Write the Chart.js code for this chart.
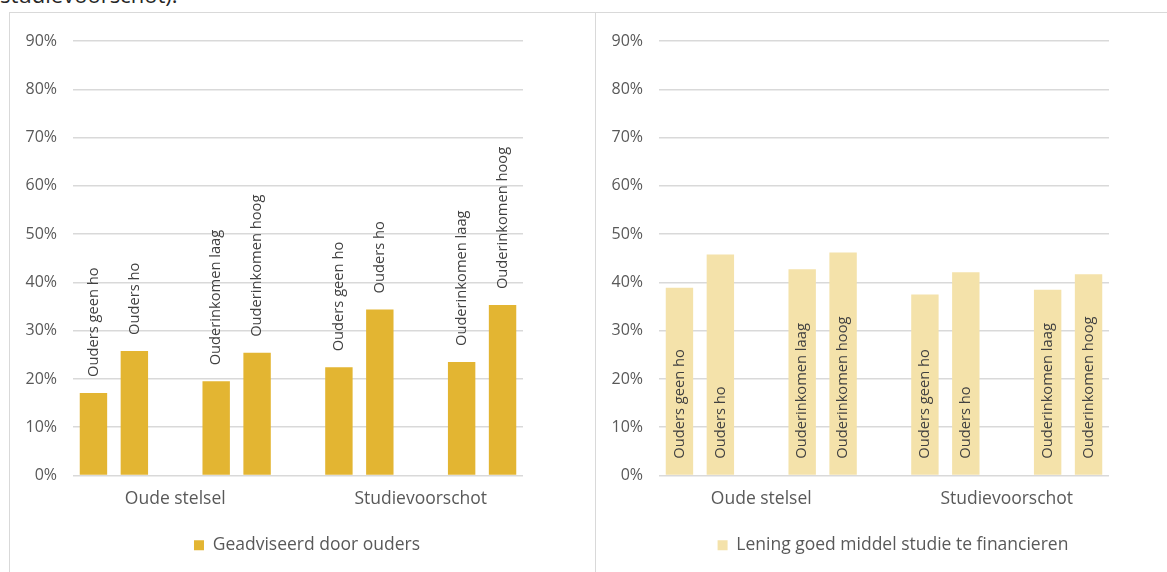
<!DOCTYPE html>
<html lang="nl">
<head>
<meta charset="UTF-8">
<title>Geadviseerd door ouders / Lening goed middel studie te financieren</title>
<script src="https://cdn.jsdelivr.net/npm/chart.js"></script>
<style>
  body { margin: 0; width: 1167px; height: 572px; overflow: hidden; background: #fff; position: relative; font-family: "Open Sans", sans-serif; }
  .kop { position: absolute; left: 0; top: -17px; font-size: 22px; line-height: 1; color: #262626; white-space: nowrap; }
  .paneel { position: absolute; top: 12px; width: 585px; height: 600px; border: 1px solid #d9d9d9; }
  #links { left: 9px; }
  #rechts { left: 595px; }
</style>
</head>
<body>
<div class="kop">studievoorschot).</div>
<div class="paneel" id="links"><canvas id="grafiekLinks" width="585" height="559"></canvas></div>
<div class="paneel" id="rechts"><canvas id="grafiekRechts" width="585" height="559"></canvas></div>
<script>
// 11 posities op de as: twee groepen van 4 staven, met lege plekken ertussen
var balken = ['Ouders geen ho', 'Ouders ho', '', 'Ouderinkomen laag', 'Ouderinkomen hoog', '',
              'Ouders geen ho', 'Ouders ho', '', 'Ouderinkomen laag', 'Ouderinkomen hoog'];
// groepslabel staat onder de middelste (lege) positie van elke groep
var groepen = ['', '', 'Oude stelsel', '', '', '', '', '', 'Studievoorschot', '', ''];
var geadviseerd = [17.1, 25.8, null, 19.5, 25.4, null, 22.4, 34.4, null, 23.5, 35.3];
var lening = [38.9, 45.8, null, 42.7, 46.2, null, 37.5, 42.1, null, 38.5, 41.7];
var yLabels = ['0%', '10%', '20%', '30%', '40%', '50%', '60%', '70%', '80%', '90%'];

Chart.defaults.font.family = '"Open Sans", sans-serif';
Chart.defaults.color = '#595959';

// gedraaide labels bij elke staaf (boven de staaf of binnen, vanaf de basis)
var staafLabels = {
    id: 'staafLabels',
    afterDatasetsDraw: function(chart, args, opts) {
        var ctx = chart.ctx;
        var meta = chart.getDatasetMeta(0);
        var data = chart.data.datasets[0].data;
        ctx.save();
        ctx.font = '14.7px "Open Sans"';
        ctx.fillStyle = '#404040';
        ctx.textAlign = 'left';
        ctx.textBaseline = 'middle';
        meta.data.forEach(function(bar, i) {
            if (data[i] == null) return;
            var start = opts.binnen ? bar.base - 16 : bar.y - 16;
            ctx.save();
            ctx.translate(bar.x, start);
            ctx.rotate(-Math.PI / 2);
            ctx.fillText(balken[i], 0, 0);
            ctx.restore();
        });
        ctx.restore();
    }
};

function maakGrafiek(id, waarden, kleur, naam, binnen) {
    var ctx = document.getElementById(id).getContext('2d');
    return new Chart(ctx, {
        type: 'bar',
        data: {
            labels: balken,
            datasets: [{
                label: naam,
                data: waarden,
                backgroundColor: kleur,
                borderWidth: 0,
                barPercentage: 0.67,
                categoryPercentage: 1
            }]
        },
        options: {
            responsive: false,
            animation: false,
            layout: { padding: { left: 9, right: 0, top: 28, bottom: 8 } },
            plugins: {
                tooltip: { enabled: false },
                staafLabels: { binnen: binnen },
                legend: {
                    position: 'bottom',
                    labels: { boxWidth: 10, boxHeight: 10, padding: 10, color: '#595959', font: { size: 17.5 } }
                }
            },
            scales: {
                x: {
                    grid: { display: false },
                    border: { display: false },
                    ticks: {
                        autoSkip: false, maxRotation: 0, padding: 5,
                        font: { size: 17.5 },
                        callback: function(v, i) { return groepen[i]; }
                    },
                    afterFit: function(s) { s.height = 51; }
                },
                y: {
                    min: 0, max: 90,
                    border: { display: false },
                    grid: { color: '#d9d9d9', lineWidth: 1.5, drawTicks: false },
                    ticks: {
                        stepSize: 10, padding: 16,
                        font: { size: 16 },
                        callback: function(v, i) { return yLabels[i]; }
                    },
                    afterFit: function(s) { s.width = 54; }
                },
                // lege ruimte rechts van het plotgebied
                rechts: {
                    type: 'linear', position: 'right',
                    grid: { display: false }, border: { display: false },
                    ticks: { display: false },
                    afterFit: function(s) { s.width = 72; }
                }
            }
        },
        plugins: [staafLabels]
    });
}

maakGrafiek('grafiekLinks', geadviseerd, '#e3b532', 'Geadviseerd door ouders', false);
maakGrafiek('grafiekRechts', lening, '#f4e2aa', 'Lening goed middel studie te financieren', true);
</script>
</body>
</html>
